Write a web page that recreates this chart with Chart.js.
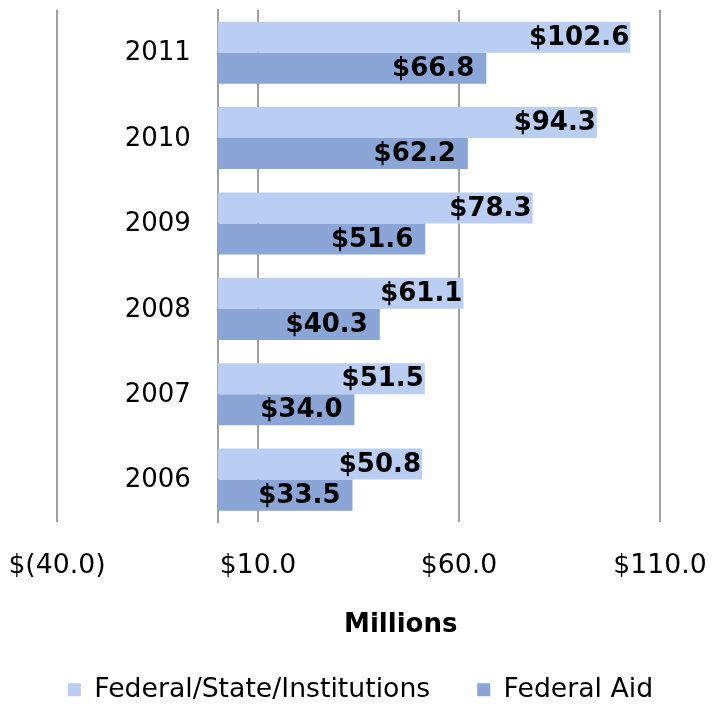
<!DOCTYPE html>
<html>
<head>
<meta charset="utf-8">
<script src="https://cdn.jsdelivr.net/npm/chart.js@4/dist/chart.umd.min.js"></script>
<style>
  html, body { margin: 0; padding: 0; background: #fff; }
  #wrap { width: 721px; height: 713px; }
</style>
</head>
<body>
<div id="wrap"><canvas id="myChart"></canvas></div>
<script>
var years = ["2011", "2010", "2009", "2008", "2007", "2006"];
var federalStateInst = [102.6, 94.3, 78.3, 61.1, 51.5, 50.8];
var federalAid = [66.8, 62.2, 51.6, 40.3, 34.0, 33.5];
var seriesNames = ["Federal/State/Institutions", "Federal Aid"];
var axisMin = -40, axisMax = 110, axisStep = 50;

function money(v) {
  return v < 0 ? "$(" + Math.abs(v).toFixed(1) + ")" : "$" + v.toFixed(1);
}

// values written inside the end of each bar
var barLabels = {
  id: "barLabels",
  afterDatasetsDraw: function (chart) {
    var ctx = chart.ctx;
    ctx.save();
    ctx.font = "bold 26px 'DejaVu Sans'";
    ctx.fillStyle = "#000";
    ctx.textAlign = "right";
    ctx.textBaseline = "middle";
    chart.data.datasets.forEach(function (ds, i) {
      var inset = i === 0 ? 1 : 12;
      chart.getDatasetMeta(i).data.forEach(function (bar, j) {
        ctx.fillText(money(ds.data[j]), bar.x - inset, bar.y + 1);
      });
    });
    ctx.restore();
  }
};

// year labels: the category axis sits at x = 0, labels kept off its left side
var yearLabels = {
  id: "yearLabels",
  afterDraw: function (chart) {
    var xs = chart.scales.x, ys = chart.scales.y;
    var ctx = chart.ctx;
    ctx.save();
    ctx.font = "26px 'DejaVu Sans'";
    ctx.fillStyle = "#000";
    ctx.textAlign = "right";
    ctx.textBaseline = "middle";
    years.forEach(function (yr, i) {
      ctx.fillText(yr, xs.getPixelForValue(0) - 27, ys.getPixelForValue(i) + 1);
    });
    ctx.restore();
  }
};

// axis title, sits off-centre like the original
var axisTitle = {
  id: "axisTitle",
  afterDraw: function (chart) {
    var a = chart.chartArea;
    var ctx = chart.ctx;
    ctx.save();
    ctx.font = "bold 26px 'DejaVu Sans'";
    ctx.fillStyle = "#000";
    ctx.textAlign = "center";
    ctx.textBaseline = "middle";
    ctx.fillText("Millions", a.left + (a.right - a.left) * 0.57, a.bottom + 103);
    ctx.restore();
  }
};

var ctx = document.getElementById("myChart").getContext("2d");
var myChart = new Chart(ctx, {
  type: "bar",
  data: {
    labels: years,
    datasets: [
      {
        label: seriesNames[0],
        data: federalStateInst,
        backgroundColor: "#bacdf3",
      },
      {
        label: seriesNames[1],
        data: federalAid,
        backgroundColor: "#8aa5d6",
      },
    ],
  },
  options: {
    indexAxis: "y",
    responsive: true,
    maintainAspectRatio: false,
    animation: false,
    categoryPercentage: 0.727,
    barPercentage: 1.0,
    layout: { padding: { top: 10, left: 0, right: 0, bottom: 0 } },
    scales: {
      x: {
        min: axisMin,
        max: axisMax,
        ticks: {
          stepSize: axisStep,
          padding: 28,
          color: "#000",
          font: { family: "'DejaVu Sans'", size: 26.7 },
          callback: function (v) { return money(v); },
        },
        grid: { color: "#a0a0a0", lineWidth: 2, drawTicks: false },
        border: { display: false },
        afterFit: function (s) {
          s.paddingLeft = 57;
          s.paddingRight = 61;
          s.height = 107;
        },
      },
      y: {
        position: { x: 0 },
        ticks: { display: false },
        grid: { display: false, drawTicks: false },
        border: { display: true, color: "#a0a0a0", width: 2 },
        afterFit: function (s) {
          s.paddingTop = 0;
          s.paddingBottom = 0;
        },
      },
    },
    plugins: {
      legend: {
        position: "bottom",
        labels: {
          boxWidth: 13,
          boxHeight: 13,
          padding: 47,
          color: "#000",
          font: { family: "'DejaVu Sans'", size: 26.7 },
        },
      },
      tooltip: { enabled: false },
    },
  },
  plugins: [barLabels, yearLabels, axisTitle],
});
</script>
</body>
</html>
